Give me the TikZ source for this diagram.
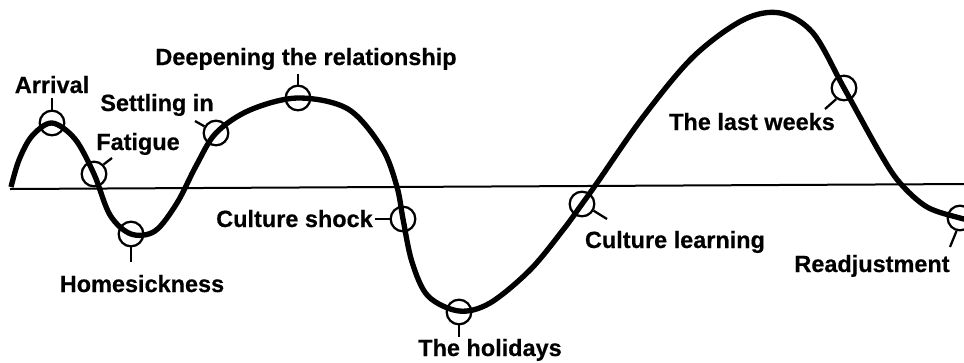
\documentclass[tikz,border=0pt]{standalone}
\usepackage{fontspec}
\setmainfont{Liberation Sans}
\newfontfamily\heavyfont[FakeBold=0.5]{Liberation Sans Bold}
\begin{document}
\begin{tikzpicture}[x=0.75pt,y=-0.75pt,
  lbl/.style={font=\heavyfont\fontsize{17.6}{20}\selectfont, inner sep=0pt, anchor=base},
  ring/.style={circle, draw, line width=1.7pt, minimum size=18.5pt, inner sep=0pt},
  tick/.style={line width=1.7pt},
  wave/.style={line width=4pt, line join=round},
  axis/.style={line width=1.5pt}]
\useasboundingbox (0,0) rectangle (964,362);
\clip (0,0) rectangle (964,362);
% axis
\coordinate (axL) at (10,189);
\coordinate (axR) at (970,184);
\draw[axis] (axL) -- (axR);
% curve
\draw[wave] plot[smooth, tension=0.55] coordinates {
 (11,187) (19,160) (32,136) (52,123) (75,139) (94,174) (110,215) (131,234)
 (155,231) (177,203) (196,166) (216,133) (250,110) (298,98) (348,109)
 (382,148) (397,187) (403,219) (412,262) (428,296) (459,311) (490,303)
 (530,270) (563,230) (582,204) (597,183) (643,117) (693,57) (743,20)
 (780,13) (813,33) (844,88) (880,153) (900,183) (927,207) (960,218) (975,221)};
% rings
\node[ring] (arr) at (52,123) {};
\node[ring] (fat) at (94,174) {};
\node[ring] (home) at (131,234) {};
\node[ring] (sett) at (216,133) {};
\node[ring] (deep) at (298,98) {};
\node[ring] (shock) at (403,219) {};
\node[ring] (hol) at (459,312) {};
\node[ring] (learn) at (582,204) {};
\node[ring] (last) at (844,88) {};
\node[ring] (readj) at (960,218) {};
% tick ends
\coordinate (arrT) at (52,98);
\coordinate (fatT) at (112,158);
\coordinate (homeT) at (131,262);
\coordinate (settT) at (195,121);
\coordinate (deepT) at (298,74);
\coordinate (shockT) at (375,219);
\coordinate (holT) at (459,337);
\coordinate (learnT) at (607,219);
\coordinate (lastT) at (825,109);
\coordinate (readjT) at (950,247);
\draw[tick] (arr.north) -- (arrT);
\draw[tick] (fat.45) -- (fatT);
\draw[tick] (home.south) -- (homeT);
\draw[tick] (sett.150) -- (settT);
\draw[tick] (deep.north) -- (deepT);
\draw[tick] (shock.west) -- (shockT);
\draw[tick] (hol.south) -- (holT);
\draw[tick] (learn.-30) -- (learnT);
\draw[tick] (last.-125) -- (lastT);
\draw[tick] (readj.-105) -- (readjT);
% labels
\node[lbl] (arrL) at (52,93) {Arrival};
\node[lbl] (fatL) at (138,150) {Fatigue};
\node[lbl] (settL) at (157,111) {Settling in};
\node[lbl] (homeL) at (142,292) {Homesickness};
\node[lbl] (deepL) at (306,65) {Deepening the relationship};
\node[lbl, anchor=base east] (shockL) at (373,227) {Culture shock};
\node[lbl] (holL) at (490,356) {The holidays};
\node[lbl] (learnL) at (675,248) {Culture learning};
\node[lbl] (lastL) at (752,130) {The last weeks};
\node[lbl] (readjL) at (872,272) {Readjustment};
\end{tikzpicture}
\end{document}
